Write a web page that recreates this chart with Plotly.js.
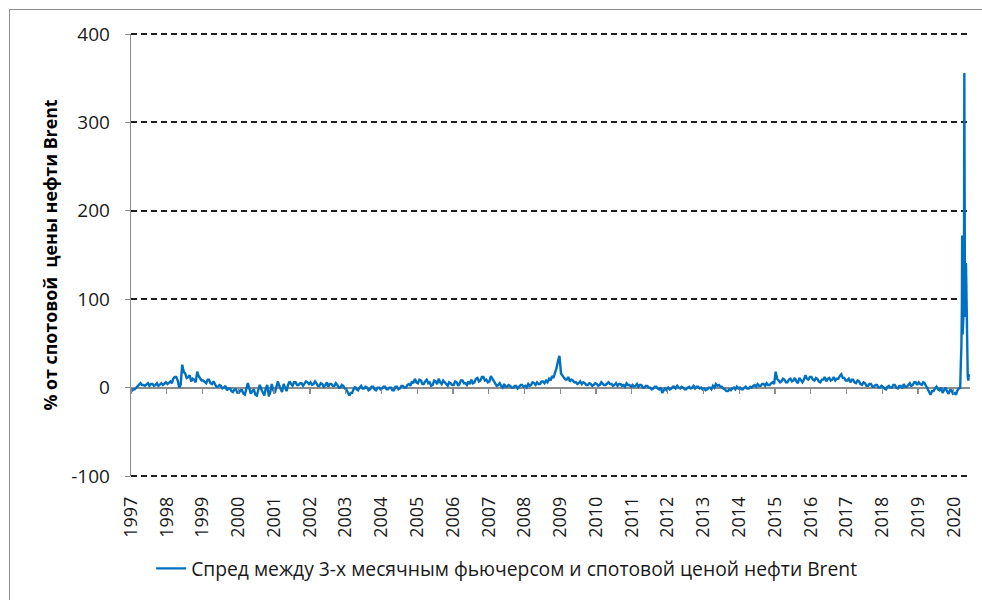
<!DOCTYPE html>
<html>
<head>
<meta charset="utf-8">
<script src="https://cdn.plot.ly/plotly-3.0.1.min.js"></script>
<style>
  html, body { margin: 0; padding: 0; background: #ffffff; }
  #chart { position: absolute; left: 0; top: 0; width: 982px; height: 600px; }
  #frame { position: absolute; left: 9px; top: 9px; width: 1100px; height: 1100px;
           border: 1px solid #8c8c8c; pointer-events: none; }
</style>
</head>
<body>
<div id="chart"></div>
<div id="frame"></div>
<script>
// Half-monthly values (% of Brent spot price)
const years = [1997,1998,1999,2000,2001,2002,2003,2004,2005,2006,2007,2008,2009,2010,2011,2012,2013,2014,2015,2016,2017,2018,2019];
const v1997 = [-4,-2, -2,0, 1,3, 5,3, 3,2, 4,5, 2,4, 4,2, 3,5, 2,4, 5,3, 4,6];
const v1998 = [4,6, 7,5, 10,12, 12,8, 0,3, 26,18, 16,11, 12,14, 7,10, 9,6, 18,13, 10,8];
const v1999 = [8,6, 5,9, 9,5, 4,7, 3,1, 1,3, 2,-1, 0,2, -3,-1, -1,-4, -5,-2, -2,-6];
const v2000 = [-6,-3, -3,-7, -8,-2, 5,-1, -7,-4, -2,-8, -9,-3, 3,-2, -6,-9, -1,3, -10,-5, 4,-3];
const v2001 = [-6,-1, 7,2, -2,-5, 4,0, -4,3, 7,4, 2,6, 6,3, 3,5, 5,2, 4,7, 6,4];
const v2002 = [6,3, 4,7, 5,2, 2,5, 4,1, 3,6, 1,4, 4,2, 2,5, 3,0, 0,3, 2,-1];
const v2003 = [-2,-5, -9,-6, -6,-2, 1,-2, -3,0, 2,-1, -1,1, 0,-3, -2,1, 1,-2, -3,0, 0,-2];
const v2004 = [-1,1, 1,-2, -2,0, 0,-3, -3,1, 1,-2, -1,2, 2,0, 0,3, 4,2, 7,5, 10,6];
const v2005 = [5,9, 8,4, 4,7, 9,5, 6,2, 3,8, 7,4, 10,6, 4,8, 6,3, 2,6, 5,3];
const v2006 = [3,7, 6,2, 4,8, 8,5, 5,3, 7,4, 9,5, 6,10, 11,7, 8,12, 12,8, 9,6];
const v2007 = [7,13, 10,6, 5,2, 3,5, 2,0, 4,1, 1,3, 2,0, 0,2, 2,-1, 1,3, 3,1];
const v2008 = [2,0, 4,2, 3,6, 5,3, 6,4, 4,7, 7,5, 8,6, 10,8, 13,11, 17,22, 30,36];
const v2009 = [16,13, 11,9, 9,12, 7,9, 8,6, 6,4, 5,7, 4,6, 5,3, 3,5, 4,2, 3,5];
const v2010 = [4,2, 3,6, 5,3, 3,5, 6,4, 4,2, 3,5, 2,4, 4,2, 3,1, 5,3, 3,1];
const v2011 = [3,1, 2,4, 1,3, 3,0, 0,2, 2,0, 0,-2, -1,1, 1,-1, -2,0, -6,-3, -1,-3];
const v2012 = [0,-2, -1,1, 1,-1, 2,0, -1,1, 0,-2, -2,0, 1,-1, 0,2, -1,1, 1,-1, 0,-2];
const v2013 = [-1,-3, -2,0, 0,-2, 2,0, 4,2, 3,1, 1,-1, -2,-4, -4,-2, -3,-1, 0,-2, 1,-1];
const v2014 = [0,-2, -2,0, 1,-1, -1,1, 0,2, 3,1, 4,2, 2,4, 4,2, 5,3, 3,5, 6,4];
const v2015 = [18,10, 8,6, 7,10, 9,6, 6,9, 10,7, 8,11, 7,5, 11,8, 6,9, 14,10, 9,12];
const v2016 = [12,9, 8,11, 10,7, 6,9, 9,12, 7,10, 11,8, 9,12, 8,10, 10,13, 15,11, 11,8];
const v2017 = [8,10, 6,9, 9,6, 5,8, 7,4, 3,6, 5,2, 2,4, 4,1, 1,3, 3,0, 0,2];
const v2018 = [1,-1, -2,1, 2,0, 0,3, 3,0, -1,2, 2,-1, 4,1, 1,3, 5,2, 3,6, 6,3];
const v2019 = [6,4, 3,6, 5,2, -2,-5, -8,-4, -4,-1, 1,-2, -3,0, -6,-3, 0,-4, -7,-3, -3,-7];
// 2020: denser points around the spike
const d2020 = ['2020-01-10','2020-01-24','2020-02-07','2020-02-21','2020-03-06','2020-03-13','2020-03-18','2020-03-23','2020-03-26','2020-03-31','2020-04-06','2020-04-13','2020-04-17','2020-04-21','2020-04-24','2020-04-29','2020-05-04','2020-05-07','2020-05-12','2020-05-18','2020-05-22','2020-05-28','2020-06-03','2020-06-08'];
const v2020 = [-6, -8, -3, -1, 0, 30, 45, 90, 172, 60, 75, 95, 356, 150, 80, 100, 141, 110, 60, 25, 12, 8, 15, 12];

const yTickVals = [-100, 0, 100, 200, 300, 400];
const yTickText = ['-100', '0', '100', '200', '300', '400'];
const seriesName = 'Спред между 3-х месячным фьючерсом и спотовой ценой нефти Brent';
const yTitle = '% от спотовой  цены нефти Brent';

const yearly = [v1997,v1998,v1999,v2000,v2001,v2002,v2003,v2004,v2005,v2006,v2007,v2008,v2009,v2010,v2011,v2012,v2013,v2014,v2015,v2016,v2017,v2018,v2019];
const xs = [], ys = [];
years.forEach((yr, i) => {
  yearly[i].forEach((v, k) => {
    const m = Math.floor(k / 2) + 1;
    const day = (k % 2 === 0) ? '08' : '23';
    xs.push(yr + '-' + String(m).padStart(2, '0') + '-' + day);
    ys.push(v);
  });
});
d2020.forEach((d, i) => { xs.push(d); ys.push(v2020[i]); });

const xRange = ['1997-01-01', '2020-06-14'];
const axisGrey = '#8c8c8c';
const fontFam = 'Open Sans, DejaVu Sans, sans-serif';
const gridStyle = { color: '#1f1f1f', width: 2, dash: '6px,4px' };

const traces = [
  { x: xs, y: ys, type: 'scatter', mode: 'lines', name: seriesName,
    line: { color: '#0070C0', width: 2.4 }, hoverinfo: 'skip' },
  { x: [], y: [], type: 'scatter', mode: 'lines', xaxis: 'x2', showlegend: false, hoverinfo: 'skip' }
];

// dashed gridlines on the top and bottom edges of the plot area (Plotly omits gridlines there)
const edgeGrid = [1, 0].map(p => ({
  type: 'line', xref: 'paper', x0: 0, x1: 1, yref: 'paper', y0: p, y1: p, layer: 'below',
  line: gridStyle
}));

const layout = {
  width: 982, height: 600,
  margin: { l: 131, r: 12, t: 34, b: 119 },
  paper_bgcolor: '#ffffff', plot_bgcolor: '#ffffff',
  showlegend: true,
  shapes: edgeGrid,
  legend: { orientation: 'h', x: 0.024, xanchor: 'left', y: -0.21, yanchor: 'middle',
            font: { family: fontFam, size: 19.3, color: '#1a1a1a' },
            bgcolor: 'rgba(0,0,0,0)' },
  xaxis: { type: 'date', range: xRange, tick0: '1997-01-01', dtick: 'M12', tickformat: '%Y',
           tickangle: -90, ticks: '', showline: false, showgrid: false, zeroline: false,
           tickfont: { family: fontFam, size: 18, color: '#1a1a1a' },
           ticklabelstandoff: 16, fixedrange: true },
  xaxis2: { type: 'date', range: xRange, tick0: '1997-01-01', dtick: 'M12', overlaying: 'x',
            anchor: 'free', position: 0.2, ticks: 'outside', ticklen: 5, tickwidth: 1.3, tickcolor: axisGrey,
            showticklabels: false, showline: false, showgrid: false, zeroline: false, fixedrange: true },
  yaxis: { range: [-100, 400], tickvals: yTickVals, ticktext: yTickText, ticks: 'outside', ticklen: 5,
           tickcolor: axisGrey, showline: true, linecolor: axisGrey, linewidth: 1.3,
           showgrid: true, gridcolor: gridStyle.color, gridwidth: gridStyle.width, griddash: gridStyle.dash,
           zeroline: true, zerolinecolor: axisGrey, zerolinewidth: 2,
           tickfont: { family: fontFam, size: 19, color: '#1a1a1a' }, ticklabelstandoff: 11, fixedrange: true,
           title: { text: yTitle, standoff: 9,
                    font: { family: fontFam, size: 17.8, color: '#000000', weight: 'bold' } } }
};

Plotly.newPlot('chart', traces, layout, { staticPlot: true, displayModeBar: false });
</script>
</body>
</html>
